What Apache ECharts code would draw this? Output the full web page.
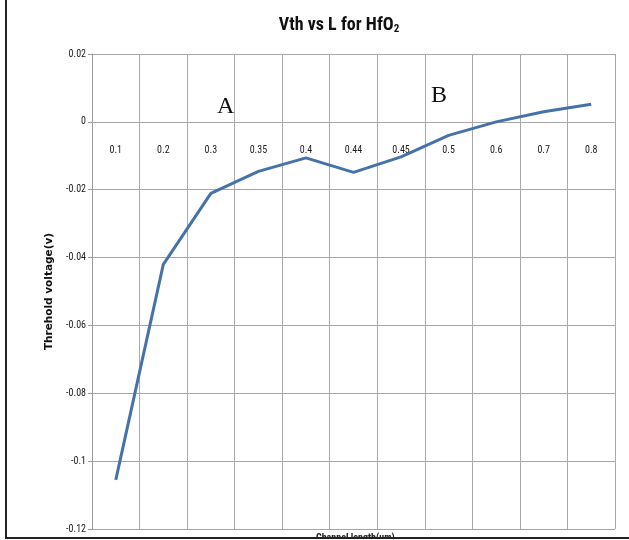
<!DOCTYPE html>
<html>
<head>
<meta charset="utf-8">
<script src="https://cdn.jsdelivr.net/npm/echarts@6/dist/echarts.min.js"></script>
<style>html,body{margin:0;padding:0;background:#fff;}#chart{width:629px;height:540px;}</style>
</head>
<body>
<div id="chart"></div>
<script>
const channelLengths = ['0.1','0.2','0.3','0.35','0.4','0.44','0.45','0.5','0.6','0.7','0.8'];
const thresholdVoltage = [-0.1055, -0.042, -0.0211, -0.0146, -0.0106, -0.0149, -0.0103, -0.0040, 0.0, 0.003, 0.0052];
const yTicks = { min: -0.12, max: 0.02, step: 0.02 };
const annotations = ['A', 'B'];

const narrow = '"Liberation Sans Narrow","Arial Narrow","Roboto Condensed",sans-serif';
const chart = echarts.init(document.getElementById('chart'), null, {renderer: 'canvas'});
chart.setOption({
  backgroundColor: '#ffffff',
  animation: false,
  title: {
    text: '{t|Vth vs L for HfO}{s|2}',
    left: 334, top: 10, textAlign: 'center',
    textStyle: {
      rich: {
        t: {fontFamily: narrow, fontWeight: 'bold', fontSize: 18, color: '#111'},
        s: {fontFamily: narrow, fontWeight: 'bold', fontSize: 11, color: '#111', verticalAlign: 'bottom', padding: [9, 0, 0, 0]}
      }
    }
  },
  grid: {left: 92, right: 14, top: 54, bottom: 11, containLabel: false, outerBoundsMode: 'none'},
  xAxis: {
    type: 'category',
    data: channelLengths,
    boundaryGap: true,
    axisLine: {onZero: false, lineStyle: {color: '#a6a6a6', width: 1.2}},
    axisTick: {show: false},
    axisLabel: {margin: 24, fontSize: 10, color: '#222', fontFamily: narrow},
    splitLine: {show: true, lineStyle: {color: '#aaa', width: 1}}
  },
  yAxis: {
    type: 'value',
    min: yTicks.min, max: yTicks.max, interval: yTicks.step,
    name: 'Threhold voltage(v)',
    nameLocation: 'middle',
    nameGap: 30,
    nameRotate: 90,
    nameTextStyle: {fontFamily: 'Verdana, "DejaVu Sans", sans-serif', fontWeight: 'bold', fontSize: 10.5, color: '#111'},
    axisLine: {show: true, lineStyle: {color: '#999', width: 1}},
    axisTick: {show: true, inside: false, length: 4, lineStyle: {color: '#999'}},
    axisLabel: {margin: 6, fontSize: 10, color: '#222', fontFamily: narrow,
      formatter: v => String(parseFloat(v.toFixed(2)))},
    splitLine: {show: true, lineStyle: {color: '#a6a6a6', width: 1.2}}
  },
  series: [{
    type: 'line',
    data: thresholdVoltage,
    showSymbol: false,
    symbol: 'none',
    lineStyle: {color: '#4672aa', width: 3},
    z: 5
  }],
  graphic: [
    {type: 'text', left: 217, top: 95, z: 10, style: {text: annotations[0], font: '24px "Liberation Serif","Times New Roman",serif', fill: '#111'}},
    {type: 'text', left: 431, top: 84, z: 10, style: {text: annotations[1], font: '24px "Liberation Serif","Times New Roman",serif', fill: '#111'}},
    {type: 'text', left: 316, top: 533, z: 9, style: {text: 'Channel length(um)', font: 'bold 10px ' + narrow, fill: '#222'}},
    {type: 'rect', shape: {x: 5, y: 0, width: 2, height: 540}, style: {fill: '#222'}, z: 20},
    {type: 'rect', shape: {x: 5, y: 537, width: 624, height: 2}, style: {fill: '#222'}, z: 20},
    {type: 'rect', shape: {x: 5, y: 539, width: 624, height: 1}, style: {fill: '#fff'}, z: 20}
  ]
});
// Place the category axis on the zero line of the value axis (via the library's scale)
const zeroPx = chart.convertToPixel({yAxisIndex: 0}, 0);
const minPx = chart.convertToPixel({yAxisIndex: 0}, yTicks.min);
chart.setOption({xAxis: {offset: -(minPx - zeroPx)}});
</script>
</body>
</html>
